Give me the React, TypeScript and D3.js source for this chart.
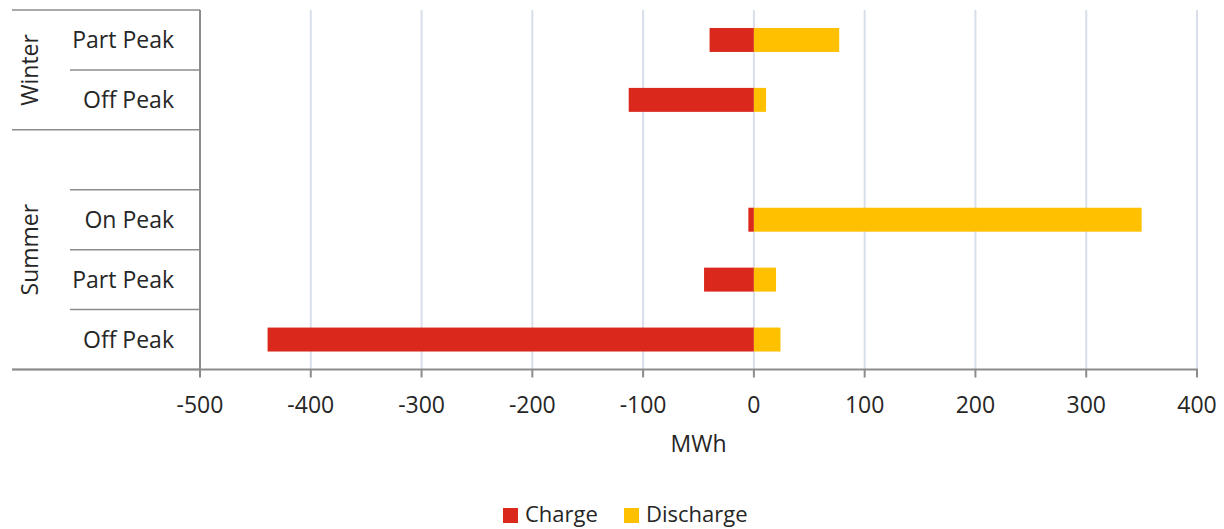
import React from 'react';
import * as d3 from 'd3';

// categories top to bottom, empty slot is the gap row in the Summer group
const categories = ['Part Peak', 'Off Peak', '', 'On Peak', 'Part Peak', 'Off Peak'];
const groupNames = ['Winter', 'Summer'];
const groupSizes = [2, 4];
const charge = [-40, -113, 0, -5, -45, -439];
const discharge = [77, 11, 0, 350, 20, 24];
const xTicks = [-500, -400, -300, -200, -100, 0, 100, 200, 300, 400];
const seriesNames = ['Charge', 'Discharge'];
const seriesColors = ['#da291c', '#ffc000'];

const W = 1224;
const H = 529;
const margin = { top: 10, right: 27, bottom: 160, left: 200 };
const FONT = '"Open Sans", sans-serif';
const TEXT = '#262626';
const AXIS = '#8c8c8c';
const GRID = '#d8dfea';

export default function App() {
  const plotBottom = H - margin.bottom + 0.5;
  const x = d3.scaleLinear().domain([-500, 400]).range([margin.left, W - margin.right]);
  const rows = d3.scaleBand<number>()
    .domain(d3.range(categories.length))
    .range([margin.top, plotBottom])
    .padding(0);
  const step = rows.step();
  const barH = step * 0.4;

  // group boundaries in row indices
  const groupStarts = groupSizes.map((_, i) => d3.sum(groupSizes.slice(0, i)));

  return (
    <svg width={W} height={H} style={{ position: 'absolute', left: 0, top: 0, background: '#fff' }}
      fontFamily={FONT}>
      {/* grid */}
      {xTicks.filter(t => t !== -500).map(t => (
        <line key={'g' + t} x1={x(t)} x2={x(t)} y1={margin.top} y2={plotBottom}
          stroke={GRID} strokeWidth={2} />
      ))}

      {/* bars */}
      {categories.map((_, i) => {
        const yb = rows(i)! + (step - barH) / 2;
        return (
          <g key={'b' + i}>
            {charge[i] !== 0 && (
              <rect x={x(charge[i])} y={yb} width={x(0) - x(charge[i])} height={barH} fill={seriesColors[0]} />
            )}
            {discharge[i] !== 0 && (
              <rect x={x(0)} y={yb} width={x(discharge[i]) - x(0)} height={barH} fill={seriesColors[1]} />
            )}
          </g>
        );
      })}

      {/* category separators */}
      {d3.range(categories.length + 1).map(i => {
        const yy = i === categories.length ? plotBottom : rows(i)!;
        const isGroupEdge = i === categories.length || groupStarts.includes(i);
        return (
          <line key={'s' + i} x1={isGroupEdge ? 12 : 70} x2={margin.left} y1={yy} y2={yy}
            stroke={AXIS} strokeWidth={1.5} />
        );
      })}

      {/* left axis */}
      <line x1={margin.left} x2={margin.left} y1={margin.top} y2={plotBottom} stroke={AXIS} strokeWidth={2} />
      {/* bottom axis */}
      <line x1={12} x2={x(400) + 1} y1={plotBottom} y2={plotBottom} stroke={AXIS} strokeWidth={2} />
      {xTicks.map(t => (
        <g key={'t' + t}>
          <line x1={x(t)} x2={x(t)} y1={plotBottom} y2={plotBottom + 8} stroke={AXIS} strokeWidth={2} />
          <text x={x(t)} y={413} textAnchor="middle" fontSize={23} fill={TEXT}>{t}</text>
        </g>
      ))}
      <text x={(margin.left + x(400)) / 2} y={452} textAnchor="middle" fontSize={23} fill={TEXT}>MWh</text>

      {/* category labels */}
      {categories.map((c, i) => (
        <text key={'c' + i} x={174} y={rows(i)! + step / 2 + 8} textAnchor="end" fontSize={23} fill={TEXT}>{c}</text>
      ))}
      {groupNames.map((g, gi) => {
        const y0 = rows(groupStarts[gi])!;
        const y1 = y0 + groupSizes[gi] * step;
        return (
          <text key={'grp' + g} transform={`translate(38,${(y0 + y1) / 2}) rotate(-90)`}
            textAnchor="middle" fontSize={23} fill={TEXT}>{g}</text>
        );
      })}

      {/* legend */}
      {seriesNames.map((s, i) => {
        const lx = [503, 624][i];
        return (
          <g key={'l' + s}>
            <rect x={lx} y={508} width={15} height={15} fill={seriesColors[i]} />
            <text x={lx + 22} y={522} fontSize={22} fill={TEXT}>{s}</text>
          </g>
        );
      })}
    </svg>
  );
}
